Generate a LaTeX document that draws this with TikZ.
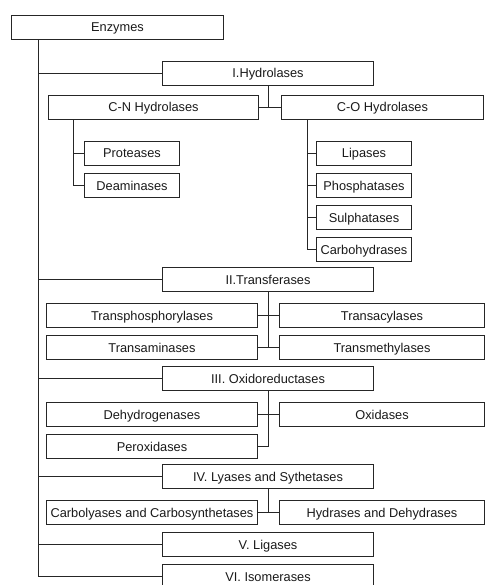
\documentclass[tikz,border=0pt]{standalone}
\usepackage{fontspec}
\setmainfont{Liberation Sans}
\usetikzlibrary{positioning}

\begin{document}
\begin{tikzpicture}[
    x=1pt, y=1pt,
    box/.style={draw=black!85, line width=1pt, minimum height=24pt, inner sep=0pt, text height=9pt, text depth=0pt, font=\fontsize{12.8}{15}\selectfont, text=black!90},
    cls/.style={box, minimum width=211pt},
    lsub/.style={box, minimum width=211pt},
    rsub/.style={box, minimum width=205pt},
    small/.style={box, minimum width=95pt},
    link/.style={draw=black!85, line width=0.9pt}
  ]
    \useasboundingbox (0,0) rectangle (487,-585);
    % root and the six classes
    \node[cls, minimum width=212pt, anchor=north west] (enz) at (11,-15) {Enzymes};
    \coordinate (trunk) at ([xshift=27pt]enz.south west);
    \node[cls, anchor=north west] (hyd) at (162,-61) {I.Hydrolases};
    \node[cls, anchor=north west] (trf) at (162,-267) {II.Transferases};
    \node[cls, anchor=north west] (oxr) at (162,-366) {III. Oxidoreductases};
    \node[cls, anchor=north west] (lya) at (162,-464) {IV. Lyases and Sythetases};
    \node[cls, anchor=north west] (lig) at (162,-532) {V. Ligases};
    \node[cls, anchor=north west] (iso) at (162,-564) {VI. Isomerases};
    \draw[link] (trunk) |- (hyd.west);
    \draw[link] (trunk) |- (trf.west);
    \draw[link] (trunk) |- (oxr.west);
    \draw[link] (trunk) |- (lya.west);
    \draw[link] (trunk) |- (lig.west);
    \draw[link] (trunk) |- (iso.west);

    % hydrolases
    \node[box, minimum width=210pt, anchor=north west] (cn) at (48,-95) {C-N Hydrolases};
    \node[rsub, minimum width=202pt, right=22pt of cn] (co) {C-O Hydrolases};
    \draw[link] (hyd.south) |- (cn.east);
    \draw[link] (hyd.south) |- (co.west);
    \node[small, anchor=north west] (prot) at (84,-141) {Proteases};
    \node[small, below=7pt of prot] (deam) {Deaminases};
    \coordinate (cnfoot) at ([xshift=25pt]cn.south west);
    \draw[link] (cnfoot) |- (prot.west);
    \draw[link] (cnfoot) |- (deam.west);
    \node[small, anchor=north west] (lip) at (316,-141) {Lipases};
    \node[small, below=7pt of lip] (phos) {Phosphatases};
    \node[small, below=7pt of phos] (sulph) {Sulphatases};
    \node[small, below=7pt of sulph] (carbh) {Carbohydrases};
    \coordinate (cofoot) at ([xshift=26pt]co.south west);
    \draw[link] (cofoot) |- (lip.west);
    \draw[link] (cofoot) |- (phos.west);
    \draw[link] (cofoot) |- (sulph.west);
    \draw[link] (cofoot) |- (carbh.west);

    % transferases
    \node[lsub, anchor=north west] (tphos) at (46,-303) {Transphosphorylases};
    \node[rsub, right=21pt of tphos] (tacyl) {Transacylases};
    \node[lsub, below=7pt of tphos] (tamin) {Transaminases};
    \node[rsub, below=7pt of tacyl] (tmeth) {Transmethylases};
    \draw[link] (trf.south) |- (tphos.east);
    \draw[link] (trf.south) |- (tacyl.west);
    \draw[link] (trf.south) |- (tamin.east);
    \draw[link] (trf.south) |- (tmeth.west);

    % oxidoreductases
    \node[lsub, anchor=north west] (dehyd) at (46,-402) {Dehydrogenases};
    \node[rsub, right=21pt of dehyd] (oxid) {Oxidases};
    \node[lsub, below=7pt of dehyd] (perox) {Peroxidases};
    \draw[link] (oxr.south) |- (dehyd.east);
    \draw[link] (oxr.south) |- (oxid.west);
    \draw[link] (oxr.south) |- (perox.east);

    % lyases
    \node[lsub, anchor=north west] (carbl) at (46,-500) {Carbolyases and Carbosynthetases};
    \node[rsub, right=21pt of carbl] (hydr) {Hydrases and Dehydrases};
    \draw[link] (lya.south) |- (carbl.east);
    \draw[link] (lya.south) |- (hydr.west);
\end{tikzpicture}
\end{document}
